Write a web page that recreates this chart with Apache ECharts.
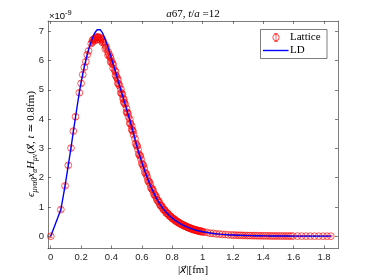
<!DOCTYPE html>
<html><head><meta charset="utf-8">
<script src="https://cdn.jsdelivr.net/npm/echarts@6/dist/echarts.min.js"></script>
<style>html,body{margin:0;padding:0;background:#fff}#c{width:374px;height:280px}</style>
</head><body><div id="c"></div>
<script>
// distances |x| in fm
const distX = [
 0,0.0667,0.0943,0.1155,0.1334,0.1491,0.1634,0.1887,0.2001,0.2109,0.2212,0.2311,0.2405,0.2496,0.2668,0.2750,0.2750,0.2830,0.2907,0.2907,
 0.2983,0.3057,0.3057,0.3129,0.3268,0.3268,0.3335,0.3401,0.3401,0.3466,0.3592,0.3592,0.3653,0.3773,0.3773,0.3832,0.3889,0.3946,0.3946,0.4002,
 0.4057,0.4112,0.4112,0.4218,0.4271,0.4271,0.4323,0.4374,0.4424,0.4424,0.4474,0.4524,0.4621,0.4621,0.4669,0.4716,0.4763,0.4810,0.4810,0.4856,
 0.4901,0.4991,0.4991,0.5036,0.5080,0.5123,0.5209,0.5209,0.5252,0.5336,0.5336,0.5378,0.5419,0.5460,
 0.555,0.56,0.565,0.57,0.575,0.58,0.585,0.59,0.595,0.60,
 0.605,0.61,0.615,0.62,0.625,0.63,0.635,0.64,0.645,0.65,
 0.655,0.66,0.665,0.67,0.675,0.68,0.685,0.69,0.695,0.70,
 0.705,0.71,0.715,0.72,0.725,0.73,0.735,0.74,0.745,0.75,
 0.755,0.76,0.765,0.77,0.775,0.78,0.785,0.79,0.795,0.80,
 0.805,0.81,0.815,0.82,0.825,0.83,0.835,0.84,0.845,0.85,
 0.855,0.86,0.865,0.87,0.875,0.88,0.885,0.89,0.895,0.90,
 0.905,0.91,0.915,0.92,0.925,0.93,0.935,0.94,0.945,0.95,
 0.955,0.96,0.965,0.97,0.975,0.98,0.985,0.99,0.995,1.00,
 1.01,1.03,1.05,1.07,1.09,1.11,1.13,1.15,1.17,1.19,
 1.205,1.22,1.235,1.25,1.265,1.28,1.295,1.31,1.325,1.34,1.355,1.37,1.385,1.40,1.415,1.43,1.445,1.46,1.475,1.49,
 1.505,1.52,1.535,1.55,1.565,1.58,1.595,
 1.625,1.653,1.681,1.709,1.737,1.765,1.793,1.82,1.845
];
// Lattice values (x 1e-9)
const latticeY = [
 0,0.91,1.72,2.42,3.01,3.59,4.08,4.90,5.22,5.52,5.77,5.96,6.20,6.33,6.58,6.63,6.70,6.72,6.76,6.68,
 6.79,6.80,6.72,6.81,6.78,6.70,6.75,6.72,6.62,6.64,6.52,6.40,6.45,6.30,6.18,6.22,6.14,6.08,5.95,5.98,
 5.90,5.86,5.74,5.66,5.62,5.50,5.45,5.40,5.34,5.22,5.20,5.14,5.02,4.90,4.88,4.84,4.70,4.68,4.58,4.55,
 4.50,4.36,4.24,4.22,4.20,4.08,3.99,3.86,3.84,3.76,3.64,3.62,3.58,3.46,
 3.33,3.17,3.10,3.08,2.96,2.81,2.76,2.74,2.63,2.49,
 2.44,2.42,2.32,2.185,2.14,2.12,2.03,1.905,1.86,1.85,
 1.77,1.655,1.62,1.61,1.54,1.435,1.40,1.39,1.33,1.24,
 1.21,1.20,1.15,1.065,1.04,1.035,0.99,0.925,0.90,0.90,
 0.86,0.80,0.78,0.785,0.75,0.70,0.68,0.68,0.65,0.605,
 0.59,0.595,0.57,0.528,0.51,0.518,0.50,0.46,0.44,0.452,
 0.43,0.40,0.39,0.393,0.38,0.348,0.34,0.342,0.33,0.302,
 0.29,0.298,0.285,0.262,0.25,0.258,0.245,0.225,0.215,0.224,
 0.215,0.196,0.185,0.193,0.185,0.17,0.16,0.171,0.165,0.146,
 0.14,0.13,0.10,0.098,0.078,0.075,0.060,0.058,0.045,0.044,
 0.036,0.037,0.030,0.031,0.025,0.026,0.021,0.022,0.018,0.019,0.015,0.016,0.012,0.014,0.010,0.011,0.008,0.009,0.007,0.008,
 0.006,0.007,0.005,0.006,0.004,0.005,0.004,
 0.003,0.003,0.002,0.002,0.002,0.001,0.001,0.001,0.001
];
const latticeErr = [
 0.05,0.06,0.06,0.07,0.07,0.07,
 0.08,0.08,0.08,0.08,0.08,0.08,0.08,0.08,
 0.08,0.08,0.08,0.08,0.08,0.08,0.08,0.08,
 0.08,0.08,0.08,0.08,0.08,0.08,0.08,0.08,
 0.08,0.08,0.08,0.08,0.08,0.08,0.08,0.08,
 0.08,0.08,0.08,0.08,0.08,0.08,0.08,0.08,
 0.08,0.08,0.08,0.08,0.08,0.08,0.08,0.08,
 0.07,0.07,0.07,0.07,0.07,0.07,0.07,0.07,0.07,0.07,0.07,0.07,0.07,0.07,0.07,0.07,0.07,0.07,
 0.06,0.06,
 0.06,0.06,0.06,0.06,0.06,0.06,0.06,0.06,0.06,0.06,0.06,
 0.05,0.05,0.05,0.05,0.05,0.05,0.05,0.05,0.05,0.05,0.05,0.05,0.05,0.05,
 0.04,0.04,0.04,0.04,0.04,0.04,0.04,0.04,0.04,0.04,0.04,0.04,0.04,0.04,
 0.03,0.03,0.03,0.03,0.03,0.03,0.03,0.03,0.03,0.03,0.03,0.03,0.03,0.03,0.03,0.03,0.03,0.03,
 0.02,0.02,0.02,0.02,0.02,0.02,0.02,0.02,0.02,0.02,
 0.02,0.02,0.02,0.02,0.02,0.02,0.02,0.02,0.02,0.02,
 0.02,0.02,0.02,0.02,0.02,0.02,0.02,0.02,0.02,0.02,
 0.02,0.02,0.02,0.02,0.02,0.02,0.02,0.02,0.02,0.02,
 0.02,0.02,0.02,0.02,0.02,0.02,0.02,0.02,0.02,0.02,
 0.02,0.02,0.02,0.02,0.02,0.02,0.02,0.02,0.02,0.02,
 0.02,0.02,0.02,0.02,0.02,0.02,0.02,0.02,0.02,0.02,
 0.02,0.02,0.02,0.02,0.02,0.02,0.02,0.02,0.02
];
// LD values (x 1e-9)
const ldY = [
 0,0.91,1.72,2.42,3.02,3.58,4.08,4.93,5.25,5.54,5.79,6.01,6.21,6.38,6.66,6.77,6.77,6.87,6.95,6.95,
 7.01,7.05,7.05,7.07,7.05,7.05,7.01,6.95,6.95,6.88,6.72,6.72,6.63,6.45,6.45,6.36,6.26,6.16,6.16,6.06,
 5.97,5.88,5.88,5.70,5.61,5.61,5.52,5.43,5.34,5.34,5.25,5.16,4.99,4.99,4.91,4.83,4.75,4.66,4.66,4.58,
 4.51,4.35,4.35,4.27,4.19,4.12,3.97,3.97,3.89,3.74,3.74,3.66,3.58,3.50,
 3.31,3.215,3.12,3.03,2.94,2.855,2.77,2.69,2.61,2.53,
 2.45,2.375,2.30,2.225,2.15,2.08,2.01,1.945,1.88,1.815,
 1.75,1.69,1.63,1.575,1.52,1.465,1.41,1.36,1.31,1.265,
 1.22,1.175,1.13,1.09,1.05,1.015,0.98,0.945,0.91,0.88,
 0.85,0.82,0.79,0.765,0.74,0.715,0.69,0.665,0.64,0.62,
 0.60,0.58,0.56,0.54,0.52,0.505,0.49,0.472,0.455,0.44,
 0.425,0.41,0.395,0.382,0.37,0.357,0.345,0.332,0.32,0.31,
 0.30,0.29,0.28,0.27,0.26,0.25,0.24,0.232,0.225,0.217,
 0.21,0.202,0.195,0.187,0.18,0.175,0.17,0.165,0.16,0.152,
 0.145,0.125,0.108,0.094,0.082,0.072,0.063,0.055,0.048,0.042,
 0.039,0.035,0.032,0.029,0.027,0.025,0.023,0.021,0.019,0.018,0.016,0.015,0.014,0.012,0.011,0.010,0.009,0.009,0.008,0.007,
 0.007,0.006,0.006,0.005,0.005,0.004,0.004,
 0.003,0.003,0.002,0.002,0.002,0.001,0.001,0.001,0.001
];
const xTicks = [0,0.2,0.4,0.6,0.8,1,1.2,1.4,1.6,1.8];
const yTicks = [0,1,2,3,4,5,6,7];
const seriesNames = ['Lattice','LD'];

const AX = '#262626';
const SANS = 'Liberation Sans, Arial, Helvetica, sans-serif';
const SERIF = 'Liberation Serif, DejaVu Serif, Times New Roman, serif';
const VEC = 'DejaVu Serif, DejaVu Sans, serif';
const latPts = distX.map((x,i)=>[x, latticeY[i], latticeErr[i] || 0]);
const ldPts = distX.map((x,i)=>[x, ldY[i]]);

function xAxisDef(pos, labels){
  return {type:'value', position:pos, min:-0.018, max:1.892,
    axisLine:{show:true,onZero:false,lineStyle:{color:AX,width:0.6}},
    axisTick:{show:true,inside:true,length:3,customValues:xTicks,lineStyle:{color:AX,width:0.6}},
    axisLabel:{show:labels,customValues:xTicks,margin:4,color:AX,fontSize:9.5,fontFamily:SANS},
    splitLine:{show:false}};
}
function yAxisDef(pos, labels){
  return {type:'value', position:pos, min:-0.42, max:7.35,
    axisLine:{show:true,onZero:false,lineStyle:{color:AX,width:0.6}},
    axisTick:{show:true,inside:true,length:3,customValues:yTicks,lineStyle:{color:AX,width:0.6}},
    axisLabel:{show:labels,customValues:yTicks,margin:4,color:AX,fontSize:9.5,fontFamily:SANS},
    splitLine:{show:false}};
}
const mathRich = {
  m:{fontFamily:SERIF,fontStyle:'italic',fontSize:11,lineHeight:15,color:'#000'},
  v:{fontFamily:VEC,fontStyle:'italic',fontSize:10.5,lineHeight:15,color:'#000'},
  r:{fontFamily:SERIF,fontSize:11,lineHeight:15,color:'#000'},
  s:{fontFamily:SERIF,fontStyle:'italic',fontSize:7.5,lineHeight:9,verticalAlign:'bottom',color:'#000'}
};

const chart = echarts.init(document.getElementById('c'), null, {renderer:'canvas'});
chart.setOption({
  animation:false,
  backgroundColor:'#fff',
  grid:{left:48,top:21,right:36,bottom:31.5,outerBoundsMode:'none'},
  xAxis:[xAxisDef('bottom',true), xAxisDef('top',false)],
  yAxis:[yAxisDef('left',true), yAxisDef('right',false)],
  series:[
    {type:'custom', name:seriesNames[0]+' err', data:latPts, encode:{x:0,y:1}, z:2, silent:true,
     renderItem:function(params, api){
       const x=api.value(0), y=api.value(1), e=api.value(2);
       const lo=api.coord([x,y-e]), hi=api.coord([x,y+e]); const w=1.8;
       const st={stroke:'#ff0000',lineWidth:0.6};
       return {type:'group',children:[
         {type:'line',shape:{x1:lo[0],y1:lo[1],x2:hi[0],y2:hi[1]},style:st},
         {type:'line',shape:{x1:lo[0]-w,y1:lo[1],x2:lo[0]+w,y2:lo[1]},style:st},
         {type:'line',shape:{x1:hi[0]-w,y1:hi[1],x2:hi[0]+w,y2:hi[1]},style:st}
       ]};
     }},
    {type:'scatter', name:seriesNames[0], data:latPts.map(p=>[p[0],p[1]]), symbol:'circle', symbolSize:6.8, z:3,
     itemStyle:{color:'rgba(255,255,255,0)',borderColor:'#ff0000',borderWidth:0.8}},
    {type:'line', name:seriesNames[1], data:ldPts, showSymbol:false, symbol:'none', z:4,
     lineStyle:{color:'#0000ff',width:1.4}}
  ],
  graphic:[
    {type:'text', x:193, y:14, z:10, style:{text:'{m|a}{r|67, }{m|t}{r|/}{m|a}{r| =12}', rich:mathRich, align:'center', verticalAlign:'middle'}},
    {type:'text', x:49, y:15, z:10, style:{text:'{a|\u00d710}{b|-9}', align:'left', verticalAlign:'middle',
      rich:{a:{fontFamily:SANS,fontSize:9.5,color:AX,lineHeight:12,verticalAlign:'bottom'},b:{fontFamily:SANS,fontSize:7.5,color:AX,lineHeight:12,verticalAlign:'top'}}}},
    {type:'text', x:193, y:270.5, z:10, style:{text:'{r||}{v|x\u20d7}{r||[fm]}', rich:mathRich, align:'center', verticalAlign:'middle'}},
    {type:'text', x:31.5, y:144, rotation:Math.PI/2, z:10, style:{text:'{m|\u03f5}{s|\u03bc\u03bd\u03b10}{m|x}{s|\u03b1}{m|H}{s|\u03bc\u03bd}{r|(}{v|x\u20d7}{r|, }{m|t}{r| \u2243 0.8fm)}', rich:mathRich, align:'center', verticalAlign:'middle'}},
    {type:'rect', z:10, shape:{x:260.5,y:29.5,width:66.5,height:29}, style:{fill:'#fff',stroke:AX,lineWidth:0.6}},
    {type:'circle', z:11, shape:{cx:276,cy:37.5,r:3.2}, style:{fill:'none',stroke:'#ff0000',lineWidth:0.7}},
    {type:'line', z:11, shape:{x1:276,y1:33.5,x2:276,y2:41.5}, style:{stroke:'#ff0000',lineWidth:0.6}},
    {type:'line', z:11, shape:{x1:274.2,y1:33.5,x2:277.8,y2:33.5}, style:{stroke:'#ff0000',lineWidth:0.6}},
    {type:'line', z:11, shape:{x1:274.2,y1:41.5,x2:277.8,y2:41.5}, style:{stroke:'#ff0000',lineWidth:0.6}},
    {type:'text', z:11, x:290, y:37.5, style:{text:seriesNames[0], fontFamily:SERIF, fontSize:11, fill:'#000', align:'left', verticalAlign:'middle'}},
    {type:'line', z:11, shape:{x1:263,y1:50.5,x2:288.5,y2:50.5}, style:{stroke:'#0000ff',lineWidth:1.4}},
    {type:'text', z:11, x:290, y:50.5, style:{text:seriesNames[1], fontFamily:SERIF, fontSize:11, fill:'#000', align:'left', verticalAlign:'middle'}}
  ]
});
</script></body></html>
